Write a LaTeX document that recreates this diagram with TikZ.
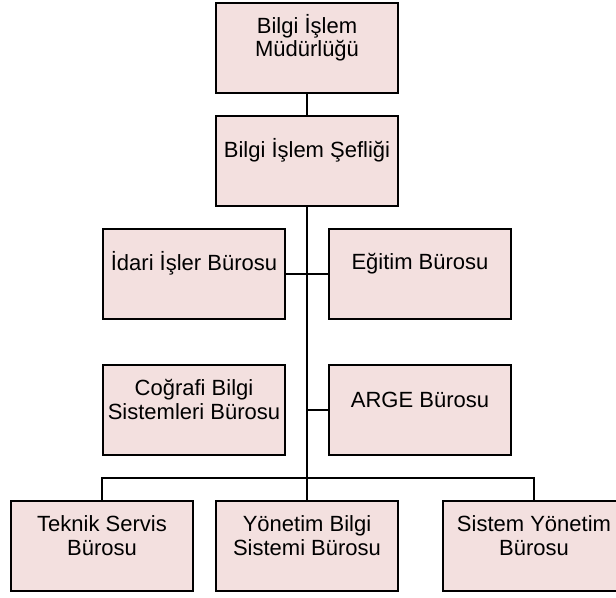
\documentclass[tikz,border=0pt]{standalone}
\usepackage{fontspec}
\setmainfont{Liberation Sans}
\usetikzlibrary{positioning,calc}
\definecolor{kutupembe}{RGB}{243,224,223}
\tikzset{
  birim/.style    = {draw, fill=kutupembe, line width=1.2pt, rectangle, inner sep=0pt,
                     outer sep=0pt, minimum width=136.5pt, minimum height=67.5pt,
                     font=\fontsize{16.5}{17.6}\selectfont},
  baglanti/.style = {draw, line width=1.5pt},
  govde/.style    = {draw, line width=2pt}
}
% text sits in the upper part of each box
\newcommand{\kutuyazi}[1]{\parbox[c][67.5pt][c]{134pt}{\centering #1\par\vspace{15.75pt}}}

\begin{document}
\begin{tikzpicture}
\clip (0,0) rectangle (462pt,-447.75pt);

% top of the chart
\node[birim, anchor=north] (mudur) at (230.25pt,-2.25pt) {\kutuyazi{Bilgi İşlem\\Müdürlüğü}};
\node[birim, below=17.25pt of mudur] (sef) {\kutuyazi{Bilgi İşlem Şefliği}};

% the offices, relatively positioned
\node[birim, below=17.25pt of sef, xshift=-84.75pt] (idari) {\kutuyazi{İdari İşler Bürosu}};
\node[birim, right=33pt of idari] (egitim) {\kutuyazi{Eğitim Bürosu}};
\node[birim, below=34.5pt of idari] (cografi) {\kutuyazi{Coğrafi Bilgi\\Sistemleri Bürosu}};
\node[birim, below=34.5pt of egitim] (arge) {\kutuyazi{ARGE Bürosu}};

% bottom row
\node[birim, below=34.5pt of cografi, xshift=84.75pt] (yonetim) {\kutuyazi{Yönetim Bilgi\\Sistemi Bürosu}};
\node[birim, left=17.25pt of yonetim] (teknik) {\kutuyazi{Teknik Servis\\Bürosu}};
\node[birim, right=33.75pt of yonetim] (sistem) {\kutuyazi{Sistem Yönetim\\Bürosu}};

% lines between the boxes
\draw[baglanti] (mudur) -- (sef);
\draw[govde] (sef) -- (yonetim);
\draw[baglanti] (idari) -- (egitim);
\draw[baglanti] (arge.west) -- (arge.west -| sef.south);
\coordinate (kol) at ($(yonetim.north)+(0,17.25pt)$);
\draw[baglanti] (teknik.north) |- (kol) -| (sistem.north);
\end{tikzpicture}
\end{document}
